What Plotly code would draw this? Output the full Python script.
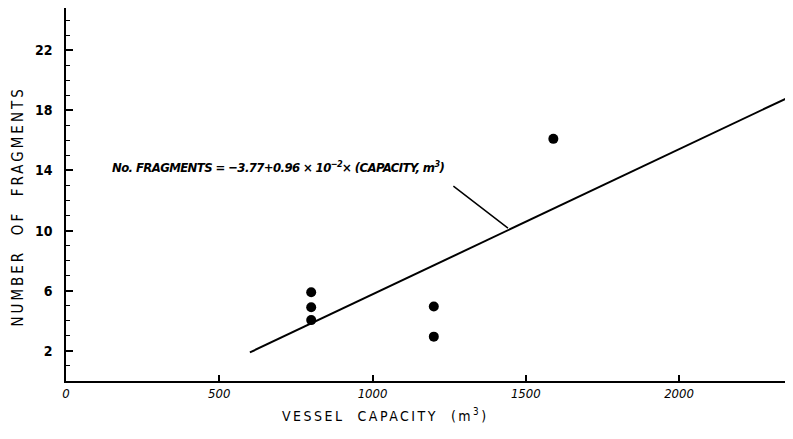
import plotly.graph_objects as go

# Data
capacity = [800, 800, 800, 1200, 1200, 1590]
fragments = [5.9, 4.9, 4.05, 4.95, 2.95, 16.1]

fit_x = [600, 2398]
fit_y = [1.9, 19.25]

x_tickvals = [0, 500, 1000, 1500, 2000]
x_ticktext = ["0", "500", "1000", "1500", "2000"]
y_tickvals = [2, 6, 10, 14, 18, 22]

equation = ('<span style="letter-spacing:-0.6px">No. FRAGMENTS = −3.77+0.96 × 10<sup>−2</sup>× '
            '(CAPACITY, m<sup>3</sup>)</span>')
x_title = '<span style="letter-spacing:2.5px">VESSEL  CAPACITY  (m<sup>3</sup>)</span>'
y_title = '<span style="letter-spacing:3px">NUMBER  OF  FRAGMENTS</span>'

fig = go.Figure()
fig.add_trace(go.Scatter(x=fit_x, y=fit_y, mode="lines",
                         line=dict(color="black", width=2), showlegend=False, hoverinfo="skip"))
fig.add_trace(go.Scatter(x=capacity, y=fragments, mode="markers",
                         marker=dict(color="black", size=10), showlegend=False))

fig.add_annotation(x=144, y=14.2, xref="x", yref="y", text=equation, showarrow=False,
                   xanchor="left", yanchor="middle",
                   font=dict(family="DejaVu Sans Condensed", size=13, color="black",
                             style="italic", weight="bold"))
fig.add_annotation(x=1442, y=10.17, xref="x", yref="y", ax=1259, ay=13.03, axref="x", ayref="y",
                   text="", showarrow=True, arrowhead=0, arrowwidth=1.5, arrowcolor="black")

# axis titles as annotations for exact placement
fig.add_annotation(x=1041, y=0, xref="x", yref="paper", yshift=-23, text=x_title,
                   showarrow=False, xanchor="center", yanchor="top",
                   font=dict(family="DejaVu Sans Condensed", size=14, color="black"))
fig.add_annotation(x=0, y=11.6, xref="paper", yref="y", xshift=-48, text=y_title,
                   textangle=-90, showarrow=False, xanchor="center", yanchor="middle",
                   font=dict(family="DejaVu Sans Condensed", size=15, color="black"))

fig.update_layout(
    width=793, height=439,
    margin=dict(l=58, r=0, t=0, b=66, autoexpand=False),
    paper_bgcolor="white", plot_bgcolor="white",
    font=dict(family="DejaVu Sans", color="black"),
)
fig.update_xaxes(range=[0, 2398], showgrid=False, zeroline=False, automargin=False,
                 showline=True, linecolor="black", linewidth=1.5,
                 tickvals=x_tickvals, ticktext=x_ticktext,
                 ticks="inside", ticklen=6, tickwidth=1.5, tickcolor="black",
                 tickfont=dict(family="DejaVu Sans Condensed", size=13, style="italic"))
fig.update_yaxes(range=[0, 24.8], showgrid=False, zeroline=False, automargin=False,
                 showline=True, linecolor="black", linewidth=1.5,
                 tickvals=y_tickvals, ticklabelstandoff=9,
                 ticks="inside", ticklen=7, tickwidth=1.5, tickcolor="black",
                 minor=dict(dtick=1, tick0=0, ticks="inside", ticklen=4, tickwidth=1.2, tickcolor="black"),
                 tickfont=dict(family="DejaVu Sans Condensed", size=14, weight="bold"))

fig.write_html("out.html")
